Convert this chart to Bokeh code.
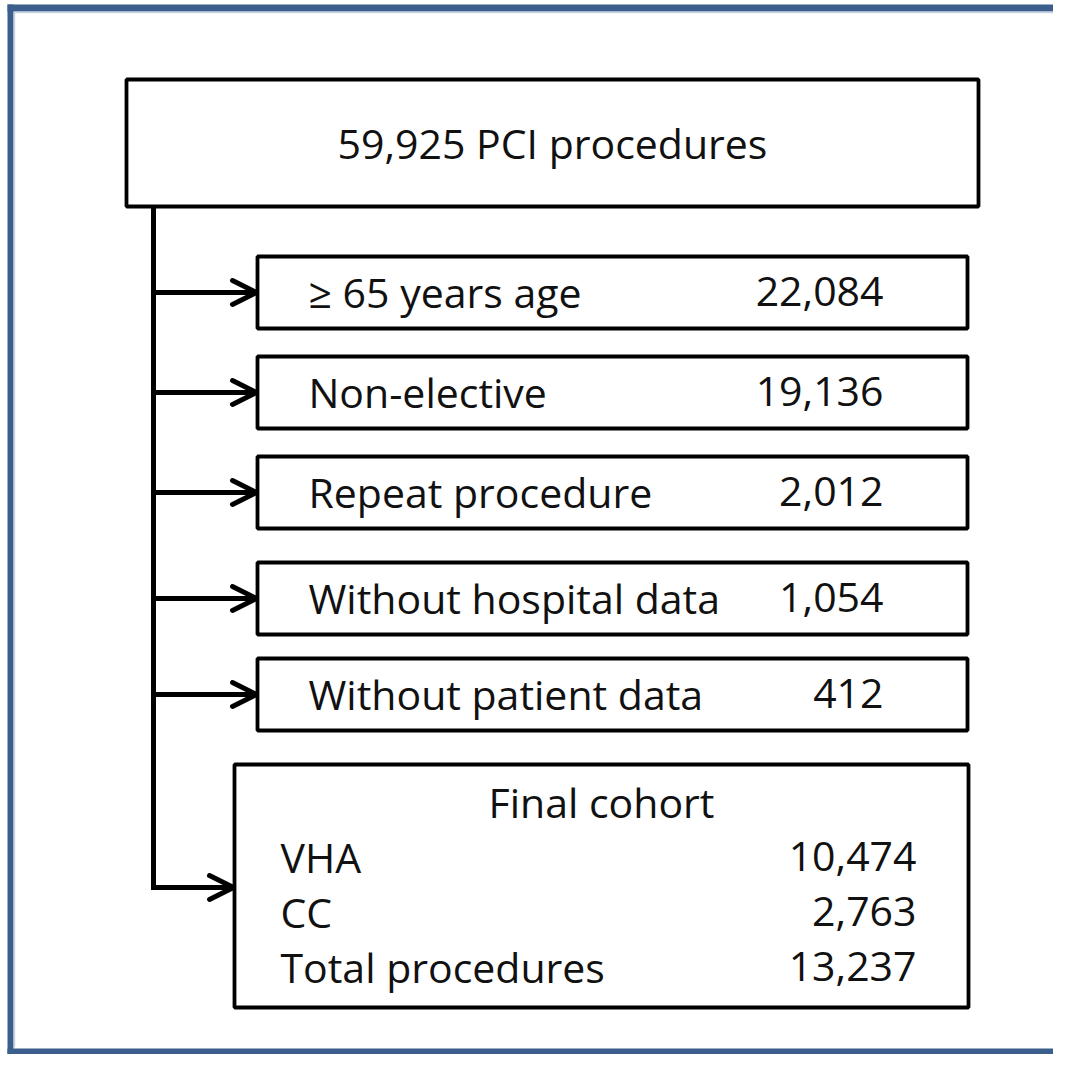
from bokeh.plotting import figure
from bokeh.models import Range1d, Arrow, OpenHead, ColumnDataSource
from bokeh.core.properties import value
from bokeh.embed import file_html
from bokeh.resources import INLINE

# ---- data ----
top_label = ["59,925 PCI procedures"]
excl_labels = ["\u2265 65 years age", "Non-elective", "Repeat procedure",
               "Without hospital data", "Without patient data"]
excl_counts = ["22,084", "19,136", "2,012", "1,054", "412"]
final_title = ["Final cohort"]
final_labels = ["VHA", "CC", "Total procedures"]
final_counts = ["10,474", "2,763", "13,237"]

# ---- layout (page pixel coordinates) ----
W, H = 1053, 1054
FONT = value("Open Sans")
FS = value("41px")
TXT = "#111111"

p = figure(width=W, height=H, output_backend="svg", toolbar_location=None,
           x_range=Range1d(0, W), y_range=Range1d(H, 0),
           min_border=0)
p.axis.visible = False
p.grid.visible = False
p.outline_line_color = None
p.background_fill_color = "white"

# frame
blue = "#3B5E8C"
p.quad(left=[7, 7, 7], right=[13, W, W], top=[4, 4, H - 6], bottom=[H, 11, H],
       fill_color=blue, line_color=None)
p.segment(x0=[14, 14], y0=[12, 12], x1=[14, W], y1=[H - 7, 12],
          line_color="#C8D4E4", line_width=1.5)

# main box
main_l, main_r, main_t, main_b = 126, 978, 79, 206
p.quad(left=[main_l], right=[main_r], top=[main_t], bottom=[main_b],
       fill_color="white", line_color="black", line_width=3.8)
p.text(x=[(main_l + main_r) / 2], y=[(main_t + main_b) / 2], text=top_label,
       text_font=FONT, text_font_size=FS, text_align="center",
       text_baseline="middle", text_color=TXT)

# exclusion boxes
box_l, box_r, box_h = 257, 967, 72
box_tops = [256, 356, 456, 562, 658]
box_bottoms = [t + box_h for t in box_tops]
box_mid = [t + box_h / 2 for t in box_tops]
p.quad(left=[box_l] * 5, right=[box_r] * 5, top=box_tops, bottom=box_bottoms,
       fill_color="white", line_color="black", line_width=3.8)
p.text(x=[308] * 5, y=[m - 1 for m in box_mid], text=excl_labels,
       text_font=FONT, text_font_size=FS, text_align="left",
       text_baseline="middle", text_color=TXT)
p.text(x=[883] * 5, y=[m - 1 for m in box_mid], text=excl_counts,
       text_font=FONT, text_font_size=FS, text_align="right",
       text_baseline="middle", text_color=TXT)

# final box
fin_l, fin_r, fin_t, fin_b = 234, 968, 764, 1007
p.quad(left=[fin_l], right=[fin_r], top=[fin_t], bottom=[fin_b],
       fill_color="white", line_color="black", line_width=3.8)
p.text(x=[(fin_l + fin_r) / 2], y=[801], text=final_title,
       text_font=FONT, text_font_size=FS, text_align="center",
       text_baseline="middle", text_color=TXT)
row_y = [856, 911, 966]
p.text(x=[280] * 3, y=row_y, text=final_labels,
       text_font=FONT, text_font_size=FS, text_align="left",
       text_baseline="middle", text_color=TXT)
p.text(x=[916] * 3, y=row_y, text=final_counts,
       text_font=FONT, text_font_size=FS, text_align="right",
       text_baseline="middle", text_color=TXT)

# connector
spine_x = 153
fin_arrow_y = 887
p.segment(x0=[spine_x], y0=[main_b], x1=[spine_x], y1=[fin_arrow_y + 2.5],
          line_color="black", line_width=5)

arrow_src = ColumnDataSource(dict(
    x0=[spine_x] * 5 + [spine_x],
    y0=box_mid + [fin_arrow_y],
    x1=[box_l - 1] * 5 + [fin_l - 1],
    y1=box_mid + [fin_arrow_y],
))
p.add_layout(Arrow(end=OpenHead(size=24, line_width=5, line_color="black",
                                line_cap="round", line_join="round"),
                   x_start="x0", y_start="y0", x_end="x1", y_end="y1",
                   source=arrow_src, line_width=5, line_color="black"))

open("out.html", "w").write(file_html(p, INLINE))
